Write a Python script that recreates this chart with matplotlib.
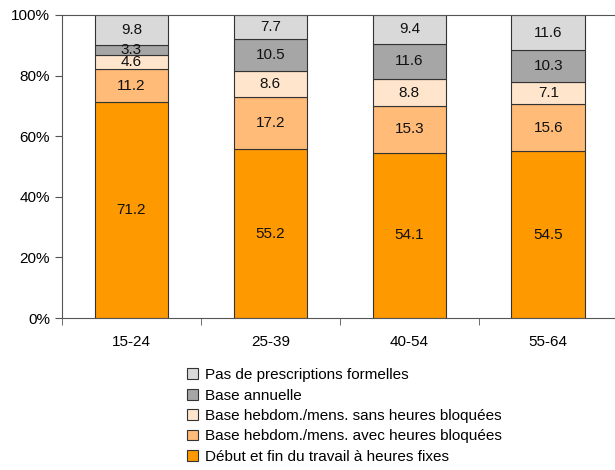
import numpy as np
import matplotlib
matplotlib.use('Agg')
import matplotlib.pyplot as plt

# Donnees
groupes = ['15-24', '25-39', '40-54', '55-64']
fixes = [71.2, 55.2, 54.1, 54.5]
avec_bloquees = [11.2, 17.2, 15.3, 15.6]
sans_bloquees = [4.6, 8.6, 8.8, 7.1]
annuelle = [3.3, 10.5, 11.6, 10.3]
pas_prescriptions = [9.8, 7.7, 9.4, 11.6]

series = [fixes, avec_bloquees, sans_bloquees, annuelle, pas_prescriptions]
noms = ['Début et fin du travail à heures fixes',
        'Base hebdom./mens. avec heures bloquées',
        'Base hebdom./mens. sans heures bloquées',
        'Base annuelle',
        'Pas de prescriptions formelles']
couleurs = ['#FF9900', '#FFBB77', '#FFE5CC', '#A6A6A6', '#D9D9D9']

plt.rcParams['font.family'] = ['Liberation Sans', 'DejaVu Sans']

fig = plt.figure(figsize=(6.15, 4.7), dpi=100)
ax = fig.add_axes([62/615, 1 - 318/470, 1 - 62/615, (318 - 15)/470])

valeurs = np.array(series)
totaux = valeurs.sum(axis=0)
pct = valeurs / totaux * 100  # 100% empile
x = np.arange(len(groupes))
bas = np.zeros(len(groupes))
barres = []
for i in range(len(series)):
    b = ax.bar(x, pct[i], 0.53, bottom=bas, color=couleurs[i],
               edgecolor='#333333', linewidth=0.8, label=noms[i])
    barres.append(b)
    for j in range(len(groupes)):
        ax.text(x[j], bas[j] + pct[i][j] / 2, f'{series[i][j]:.1f}',
                ha='center', va='center', fontsize=11, color='#111111')
    bas += pct[i]

ax.set_xlim(-0.5, 3.48)
ax.set_ylim(0, 100)
ax.set_yticks(np.arange(0, 101, 20))
ax.set_yticklabels([f'{v}%' for v in range(0, 101, 20)], fontsize=11)
ax.set_xticks(x)
ax.set_xticklabels(groupes, fontsize=11)
ax.set_xticks(np.arange(-0.5, 3.5, 1), minor=True)
ax.tick_params(axis='x', which='major', length=0, pad=12)
ax.tick_params(axis='x', which='minor', length=5, color='#555555')
ax.tick_params(axis='y', length=5, color='#555555')
ax.spines['right'].set_visible(False)
for s in ['left', 'bottom', 'top']:
    ax.spines[s].set_color('#555555')

handles = barres[::-1]
labels = noms[::-1]
fig.legend(handles, labels, loc='upper left', bbox_to_anchor=(181/615, 1 - 362/470),
           frameon=False, fontsize=11, handlelength=0.7, handleheight=0.7,
           handletextpad=0.45, labelspacing=0.42, borderaxespad=0)

fig.savefig('out.png', dpi=100)
